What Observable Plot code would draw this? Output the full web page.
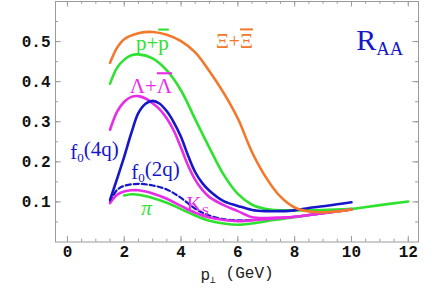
<!DOCTYPE html>
<html>
<head>
<meta charset="utf-8">
<script src="https://cdn.jsdelivr.net/npm/d3@7"></script>
<script src="https://cdn.jsdelivr.net/npm/@observablehq/plot@0.6"></script>
<style>
  html, body { margin: 0; padding: 0; background: #fff; }
</style>
</head>
<body>
<div id="chart"></div>
<script>
// ---- data ----
const xTicks = [0, 2, 4, 6, 8, 10, 12];
const yTicks = [0.1, 0.2, 0.3, 0.4, 0.5];
const xMinor = d3.range(0, 12.01, 0.5);
const yMinor = d3.range(0.05, 0.6, 0.05);

const xiCurve = [[1.5,0.447],[1.75,0.485],[2,0.506],[2.5,0.521],[3,0.524],[3.5,0.517],[4,0.501],[4.5,0.473],[5,0.426],[5.5,0.372],[6,0.308],[6.5,0.224],[7,0.16],[7.5,0.113],[8,0.086],[8.5,0.076],[9,0.074],[9.5,0.076],[10,0.081]];
const pCurve = [[1.5,0.395],[1.75,0.435],[2,0.455],[2.25,0.466],[2.5,0.468],[3,0.458],[3.5,0.428],[4,0.378],[4.5,0.306],[5,0.235],[5.5,0.168],[6,0.12],[6.5,0.093],[7,0.082],[7.5,0.079],[8,0.079],[9,0.08],[10,0.083]];
const lambdaCurve = [[1.5,0.28],[1.75,0.325],[2,0.35],[2.25,0.362],[2.5,0.364],[2.75,0.358],[3,0.346],[3.25,0.331],[3.5,0.308],[3.75,0.277],[4,0.235],[4.25,0.19],[4.5,0.155],[4.75,0.13],[5,0.112],[5.5,0.092],[6,0.077],[6.5,0.062],[7,0.06],[7.5,0.061],[8,0.063],[9,0.072],[10,0.081]];
const f4qCurve = [[1.5,0.105],[1.75,0.158],[2,0.213],[2.25,0.272],[2.5,0.322],[2.75,0.345],[3,0.352],[3.25,0.345],[3.5,0.326],[3.75,0.298],[4,0.262],[4.25,0.215],[4.5,0.174],[4.75,0.147],[5,0.128],[5.5,0.102],[6,0.09],[6.5,0.08],[7,0.077],[7.5,0.077],[8,0.079],[8.5,0.085],[9,0.089],[9.5,0.094],[10,0.099]];
const f2qCurve = [[1.5,0.1],[1.75,0.13],[2,0.14],[2.5,0.145],[3,0.141],[3.5,0.131],[4,0.11],[4.5,0.083],[5,0.066],[5.5,0.057],[6,0.054],[6.5,0.055]];
const ksCurve = [[1.5,0.097],[1.75,0.118],[2,0.126],[2.25,0.129],[2.5,0.129],[2.75,0.126],[3,0.121],[3.5,0.108],[4,0.09],[4.5,0.073],[5,0.061],[5.5,0.055],[6,0.052],[6.5,0.054],[7,0.057],[7.5,0.06],[8,0.063],[9,0.072],[10,0.081]];
const piCurve = [[2,0.116],[2.25,0.119],[2.5,0.118],[3,0.11],[3.5,0.098],[4,0.082],[4.5,0.066],[5,0.053],[5.5,0.046],[6,0.043],[6.5,0.046],[7,0.052],[7.5,0.057],[8,0.062],[9,0.072],[10,0.082],[11,0.092],[12,0.101]];

// "_{..}" = subscript, "^{..}" = overline
const labelTexts = {
  p: "p+^{p}", xi: "\u039E+^{\u039E}", lambda: "\u039B+^{\u039B}",
  f4q: "f_{0}(4q)", f2q: "f_{0}(2q)", pi: "\u03C0", ks: "K_{S}", raa: "R_{AA}",
  xlabel: "p_{\u22A5} (GeV)"
};

// ---- colours ----
const ORANGE = "#f2782a", GREEN = "#2fe22f", MAGENTA = "#e62ee6", BLUE = "#1717c9";
const X0 = -0.42, X1 = 12.36, Y0 = 0, Y1 = 0.6;
const line = (d, stroke, extra = {}) => Plot.line(d, {x: d => d[0], y: d => d[1], stroke, strokeWidth: 2.6, curve: "catmull-rom", ...extra});
const serif = "Liberation Serif, Times New Roman, serif";
const lab = (t, x, y, fill, extra = {}) => Plot.text([t], {x, y, text: d => d, fill, fontFamily: serif, fontSize: 21, ...extra});
const tickGray = "#9a9a9a";

const chart = Plot.plot({
  width: 436, height: 289,
  marginLeft: 55, marginRight: 18, marginTop: 1, marginBottom: 47.5,
  style: {fontFamily: "Liberation Mono, Courier New, monospace", fontSize: "16px", color: "#111", background: "#fff"},
  x: {domain: [X0, X1], axis: null},
  y: {domain: [Y0, Y1], axis: null},
  marks: [
    Plot.frame({stroke: tickGray, strokeWidth: 1}),
    // inward ticks (major + minor) on all four sides
    Plot.ruleX(xTicks, {y1: Y0, y2: Y0 + 0.014, stroke: tickGray}),
    Plot.ruleX(xTicks, {y1: Y1, y2: Y1 - 0.014, stroke: tickGray}),
    Plot.ruleX(xMinor, {y1: Y0, y2: Y0 + 0.007, stroke: tickGray}),
    Plot.ruleX(xMinor, {y1: Y1, y2: Y1 - 0.007, stroke: tickGray}),
    Plot.ruleY(yTicks, {x1: X0, x2: X0 + 0.2, stroke: tickGray}),
    Plot.ruleY(yTicks, {x1: X1, x2: X1 - 0.2, stroke: tickGray}),
    Plot.ruleY(yMinor, {x1: X0, x2: X0 + 0.1, stroke: tickGray}),
    Plot.ruleY(yMinor, {x1: X1, x2: X1 - 0.1, stroke: tickGray}),
    Plot.axisX({ticks: xTicks, tickSize: 0, tickPadding: 4, label: null, fontWeight: "bold", tickFormat: d => String(d)}),
    Plot.axisY({ticks: yTicks, tickSize: 0, tickPadding: 5, label: null, fontWeight: "bold", tickFormat: d => d.toFixed(1)}),
    // curves
    line(pCurve, GREEN),
    line(piCurve, GREEN),
    line(f2qCurve, BLUE, {strokeDasharray: "5,3", strokeWidth: 2.2}),
    line(ksCurve, MAGENTA),
    line(lambdaCurve, MAGENTA),
    line(f4qCurve, BLUE),
    line(xiCurve, ORANGE),
    // labels
    lab(labelTexts.p, 2.99, 0.497, GREEN),
    lab(labelTexts.xi, 5.88, 0.499, ORANGE, {fontSize: 20}),
    lab(labelTexts.lambda, 2.94, 0.388, MAGENTA),
    lab(labelTexts.f4q, 0.95, 0.225, BLUE),
    lab(labelTexts.f2q, 3.10, 0.175, BLUE),
    lab(labelTexts.pi, 2.78, 0.083, GREEN, {fontStyle: "italic"}),
    lab(labelTexts.ks, 4.59, 0.095, MAGENTA),
    lab(labelTexts.raa, 10.17, 0.504, BLUE, {fontSize: 30, textAnchor: "start"}),
    Plot.text([labelTexts.xlabel], {frameAnchor: "bottom", lineAnchor: "middle", dy: 33, text: d => d, fill: "#222", fontSize: 16, fontFamily: "Liberation Mono, Courier New, monospace"})
  ]
});

// turn "_{...}" into subscripts and "^{...}" into overlined text
d3.select(chart).selectAll("text").each(function () {
  const t = this.textContent;
  if (!/[_^]\{/.test(t) || this.querySelector("tspan")) return;
  const el = d3.select(this);
  el.text("");
  const re = /([_^])\{([^}]*)\}/g;
  let last = 0, m, pendingDy = null;
  const add = (s) => {
    const ts = el.append("tspan").text(s);
    if (pendingDy) { ts.attr("dy", pendingDy); pendingDy = null; }
    return ts;
  };
  while ((m = re.exec(t))) {
    if (m.index > last) add(t.slice(last, m.index));
    if (m[1] === "_") {
      const ts = el.append("tspan").text(m[2]).attr("font-size", "62%");
      ts.attr("dy", pendingDy ? null : "0.3em");
      if (pendingDy) pendingDy = null;
      pendingDy = "-0.3em";
    } else {
      add(m[2]).style("text-decoration", "overline");
    }
    last = re.lastIndex;
  }
  if (last < t.length) add(t.slice(last));
});

document.getElementById("chart").appendChild(chart);
</script>
</body>
</html>
